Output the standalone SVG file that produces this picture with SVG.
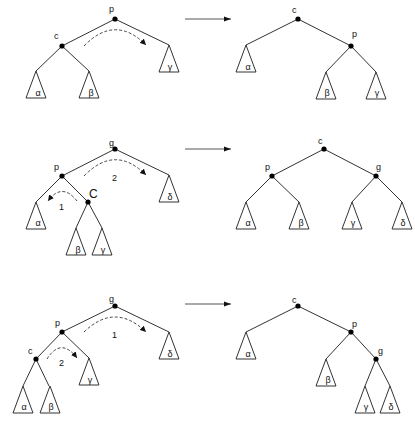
<svg xmlns="http://www.w3.org/2000/svg" width="415" height="437" viewBox="0 0 415 437">
  <defs>
    <style>
      .edge { stroke: #333; stroke-width: 1; fill: none; }
      .sub { stroke: #333; stroke-width: 1; fill: #fff; }
      .node { fill: #000; }
      .rot { stroke: #444; stroke-width: 1; fill: none; stroke-dasharray: 3 2; }
      .step { stroke: #555; stroke-width: 1; fill: none; }
      text { font-family: "Liberation Sans", Arial, sans-serif; font-size: 9px; fill: #111; }
      .g { text-anchor: middle; }
      .big { font-size: 12px; }
    </style>
    <marker id="tip" markerUnits="userSpaceOnUse" markerWidth="7" markerHeight="6" refX="6" refY="3" orient="auto">
      <path d="M0,0 L6,3 L0,6 Z" fill="#111"/>
    </marker>
    <marker id="head" markerUnits="userSpaceOnUse" markerWidth="8" markerHeight="6" refX="7" refY="3" orient="auto">
      <path d="M0,0.5 L7,3 L0,5.5 Z" fill="#111"/>
    </marker>
    <path id="tri" d="M0,0 L-10,27 L10,27 Z"/>
  </defs>

  <!-- transition arrows -->
  <g id="steps">
    <line class="step" x1="185" y1="19" x2="231" y2="19" marker-end="url(#head)"/>
    <line class="step" x1="185" y1="149" x2="231" y2="149" marker-end="url(#head)"/>
    <line class="step" x1="185" y1="304" x2="231" y2="304" marker-end="url(#head)"/>
  </g>

  <!-- connectors -->
  <g id="connectors">
    <!-- row 1, before -->
    <polyline class="edge" points="36,71 62,46 115,19 169,45"/>
    <line class="edge" x1="62" y1="46" x2="89" y2="71"/>
    <path class="rot" d="M84,46 Q115,14 146,45" marker-end="url(#tip)"/>
    <!-- row 1, after -->
    <polyline class="edge" points="246,45 298,19 351,46 376,72"/>
    <line class="edge" x1="351" y1="46" x2="326" y2="72"/>
    <!-- row 2, before -->
    <polyline class="edge" points="36,202 62,176 115,149 169,175"/>
    <polyline class="edge" points="62,176 88,202 76,228"/>
    <line class="edge" x1="88" y1="202" x2="102" y2="228"/>
    <path class="rot" d="M84,176 Q115,144 146,175" marker-end="url(#tip)"/>
    <path class="rot" d="M77,201 Q62,182 48,201" marker-end="url(#tip)"/>
    <!-- row 2, after -->
    <polyline class="edge" points="246,202 272,176 324,149 376,176 402,202"/>
    <line class="edge" x1="272" y1="176" x2="299" y2="202"/>
    <line class="edge" x1="376" y1="176" x2="352" y2="202"/>
    <!-- row 3, before -->
    <polyline class="edge" points="23,386 36,359 62,332 115,306 169,332"/>
    <line class="edge" x1="36" y1="359" x2="49" y2="386"/>
    <line class="edge" x1="62" y1="332" x2="89" y2="358"/>
    <path class="rot" d="M84,332 Q115,302 146,332" marker-end="url(#tip)"/>
    <path class="rot" d="M47,359 Q61,337 77,358" marker-end="url(#tip)"/>
    <!-- row 3, after -->
    <polyline class="edge" points="246,332 298,306 351,332 376,359 390,386"/>
    <line class="edge" x1="351" y1="332" x2="326" y2="359"/>
    <line class="edge" x1="376" y1="359" x2="365" y2="386"/>
  </g>

  <!-- row 1, before -->
  <g id="r1-p"><circle class="node" cx="115" cy="19" r="2.6"/><text x="109" y="12">p</text></g>
  <g id="r1-c"><circle class="node" cx="62" cy="46" r="2.6"/><text x="54" y="39">c</text></g>
  <g id="r1-alpha"><use href="#tri" class="sub" x="36" y="71"/><text class="g" x="38" y="96">α</text></g>
  <g id="r1-beta"><use href="#tri" class="sub" x="89" y="71"/><text class="g" x="91" y="96">β</text></g>
  <g id="r1-gamma"><use href="#tri" class="sub" x="169" y="45"/><text class="g" x="170" y="70">γ</text></g>

  <!-- row 1, after -->
  <g id="r1b-c"><circle class="node" cx="298" cy="19" r="2.6"/><text x="292" y="13">c</text></g>
  <g id="r1b-p"><circle class="node" cx="351" cy="46" r="2.6"/><text x="352" y="37">p</text></g>
  <g id="r1b-alpha"><use href="#tri" class="sub" x="246" y="45"/><text class="g" x="248" y="70">α</text></g>
  <g id="r1b-beta"><use href="#tri" class="sub" x="326" y="72"/><text class="g" x="327" y="96">β</text></g>
  <g id="r1b-gamma"><use href="#tri" class="sub" x="376" y="72"/><text class="g" x="377" y="96">γ</text></g>

  <!-- row 2, before -->
  <g id="r2-g"><circle class="node" cx="115" cy="149" r="2.6"/><text x="109" y="146">g</text></g>
  <g id="r2-p"><circle class="node" cx="62" cy="176" r="2.6"/><text x="54" y="170">p</text></g>
  <g id="r2-c"><circle class="node" cx="88" cy="202" r="2.6"/><text class="big" x="89" y="198">C</text></g>
  <g id="r2-alpha"><use href="#tri" class="sub" x="36" y="202"/><text class="g" x="38" y="226">α</text></g>
  <g id="r2-beta"><use href="#tri" class="sub" x="76" y="228"/><text class="g" x="78" y="253">β</text></g>
  <g id="r2-gamma"><use href="#tri" class="sub" x="102" y="228"/><text class="g" x="103" y="253">γ</text></g>
  <g id="r2-delta"><use href="#tri" class="sub" x="169" y="175"/><text class="g" x="170" y="200">δ</text></g>
  <text x="112" y="181">2</text>
  <text x="59" y="210">1</text>

  <!-- row 2, after -->
  <g id="r2b-c"><circle class="node" cx="324" cy="149" r="2.6"/><text x="318" y="144">c</text></g>
  <g id="r2b-p"><circle class="node" cx="272" cy="176" r="2.6"/><text x="265" y="170">p</text></g>
  <g id="r2b-g"><circle class="node" cx="376" cy="176" r="2.6"/><text x="376" y="170">g</text></g>
  <g id="r2b-alpha"><use href="#tri" class="sub" x="246" y="202"/><text class="g" x="248" y="226">α</text></g>
  <g id="r2b-beta"><use href="#tri" class="sub" x="299" y="202"/><text class="g" x="301" y="226">β</text></g>
  <g id="r2b-gamma"><use href="#tri" class="sub" x="352" y="202"/><text class="g" x="353" y="226">γ</text></g>
  <g id="r2b-delta"><use href="#tri" class="sub" x="402" y="202"/><text class="g" x="403" y="226">δ</text></g>

  <!-- row 3, before -->
  <g id="r3-g"><circle class="node" cx="115" cy="306" r="2.6"/><text x="109" y="302">g</text></g>
  <g id="r3-p"><circle class="node" cx="62" cy="332" r="2.6"/><text x="55" y="326">p</text></g>
  <g id="r3-c"><circle class="node" cx="36" cy="359" r="2.6"/><text x="28" y="354">c</text></g>
  <g id="r3-alpha"><use href="#tri" class="sub" x="23" y="386"/><text class="g" x="24" y="410">α</text></g>
  <g id="r3-beta"><use href="#tri" class="sub" x="50" y="386"/><text class="g" x="51" y="410">β</text></g>
  <g id="r3-gamma"><use href="#tri" class="sub" x="89" y="358"/><text class="g" x="90" y="383">γ</text></g>
  <g id="r3-delta"><use href="#tri" class="sub" x="169" y="332"/><text class="g" x="170" y="357">δ</text></g>
  <text x="112" y="338">1</text>
  <text x="59" y="366">2</text>

  <!-- row 3, after -->
  <g id="r3b-c"><circle class="node" cx="298" cy="306" r="2.6"/><text x="292" y="303">c</text></g>
  <g id="r3b-p"><circle class="node" cx="351" cy="332" r="2.6"/><text x="352" y="327">p</text></g>
  <g id="r3b-g"><circle class="node" cx="376" cy="359" r="2.6"/><text x="378" y="354">g</text></g>
  <g id="r3b-alpha"><use href="#tri" class="sub" x="246" y="332"/><text class="g" x="248" y="357">α</text></g>
  <g id="r3b-beta"><use href="#tri" class="sub" x="326" y="359"/><text class="g" x="328" y="383">β</text></g>
  <g id="r3b-gamma"><use href="#tri" class="sub" x="365" y="386"/><text class="g" x="366" y="410">γ</text></g>
  <g id="r3b-delta"><use href="#tri" class="sub" x="390" y="386"/><text class="g" x="391" y="410">δ</text></g>
</svg>
